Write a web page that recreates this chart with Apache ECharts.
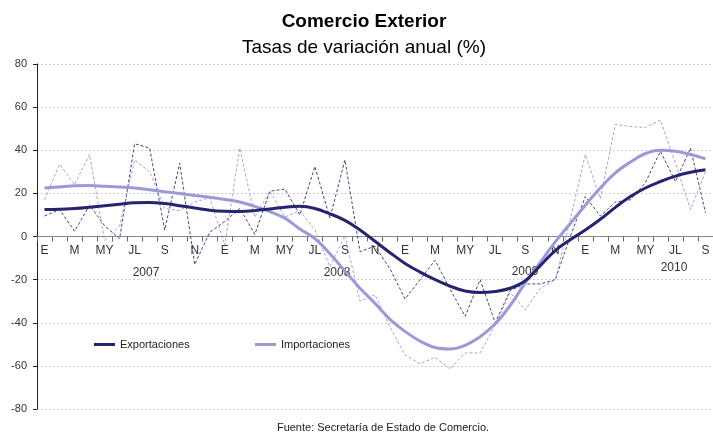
<!DOCTYPE html>
<html>
<head>
<meta charset="utf-8">
<script src="https://cdn.jsdelivr.net/npm/echarts@6/dist/echarts.min.js"></script>
<style>
  html, body { margin: 0; padding: 0; background: #fff; }
  #chart { width: 713px; height: 436px; }
</style>
</head>
<body>
<div id="chart"></div>
<script>
// meses ene 2007 - sep 2010
var meses = ['E','F','M','A','MY','JN','JL','AG','S','O','N','D',
             'E','F','M','A','MY','JN','JL','AG','S','O','N','D',
             'E','F','M','A','MY','JN','JL','AG','S','O','N','D',
             'E','F','M','A','MY','JN','JL','AG','S'];
var anios = ['2007', '2008', '2009', '2010'];

// tendencia (lineas gruesas)
var expTendencia = [12.5, 12.6, 13, 13.6, 14.3, 15, 15.6, 15.8, 15.3, 14.3, 13.2, 12.2,
                    11.7, 11.6, 12, 12.8, 13.6, 14, 13, 10.5, 7.5, 3, -2.2, -7.5,
                    -12.5, -16.5, -20, -23, -25.3, -26, -25.5, -24, -20.5, -13.5, -6.5, -1.5,
                    3, 8, 13.5, 18.5, 22.5, 25.5, 28, 29.8, 31];
var impTendencia = [22.5, 23, 23.5, 23.6, 23.3, 23, 22.5, 21.7, 20.8, 19.9, 19, 18.2,
                    17.2, 16, 14, 11.5, 8.5, 3.5, -1, -8, -16, -24, -31, -38.4,
                    -44, -48.5, -51.5, -52.2, -50.5, -46.5, -40.5, -32, -21.5, -12, -2.5, 6,
                    14.5, 22.5, 29.5, 34.5, 38.5, 40, 39.5, 38, 36];

// tasas mensuales (lineas discontinuas)
var expMensual = [9.5, 12.5, 2.5, 14.5, 5, -1, 43, 41, 3, 34, -13, 2,
                  7, 13, 1, 21, 22, 10, 32.5, 8.5, 35.5, -7, -4.5, -15,
                  -29, -20, -11, -24.5, -37, -20, -40, -25, -22, -22, -20, 0,
                  18.5, 9.5, 16, 17, 25, 39.5, 25.5, 41, 11];
var impMensual = [17, 33.5, 24, 38, -2, 5, 35.5, 30, 13, 12, 16, 18,
                  -4, 41, 9, 21, 9, 12, 3, -14, 0.5, -30, -27, -42,
                  -55, -59, -56, -61.5, -54, -54, -41, -26, -34, -24, -20, 8,
                  38, 17.5, 52, 51, 50.5, 54, 34, 12.5, 30];

var colorExp = '#24246f';
var colorImp = '#9c99d9';
var fuente = 'Liberation Sans, Arial, sans-serif';

var chart = echarts.init(document.getElementById('chart'));
var option = {
    backgroundColor: '#fff',
    animation: false,
    title: [{
        text: 'Comercio Exterior',
        left: 364, top: 12, padding: 0, textAlign: 'center',
        textStyle: { fontFamily: fuente, fontSize: 19, fontWeight: 'bold', color: '#000' }
    }, {
        text: 'Tasas de variación anual (%)',
        left: 364, top: 38, padding: 0, textAlign: 'center',
        textStyle: { fontFamily: fuente, fontSize: 19, fontWeight: 'normal', color: '#000' }
    }],
    legend: [{
        left: 94, top: 339, padding: 0,
        icon: 'rect', itemWidth: 21, itemHeight: 3,
        textStyle: { fontFamily: fuente, fontSize: 11, color: '#222' },
        data: ['Exportaciones']
    }, {
        left: 255, top: 339, padding: 0,
        icon: 'rect', itemWidth: 21, itemHeight: 3,
        textStyle: { fontFamily: fuente, fontSize: 11, color: '#222' },
        data: ['Importaciones']
    }],
    grid: { left: 37, right: 0, top: 64, bottom: 27, containLabel: false },
    xAxis: {
        type: 'category',
        data: meses,
        boundaryGap: true,
        offset: -172.5,
        axisLine: { onZero: false, lineStyle: { color: '#888', width: 1 } },
        axisTick: { show: true, interval: 0, length: 5, lineStyle: { color: '#666' } },
        axisLabel: { interval: 1, margin: 8, fontFamily: fuente, fontSize: 12, color: '#333' },
        splitLine: { show: false }
    },
    yAxis: {
        type: 'value',
        min: -80, max: 80, interval: 20,
        axisLine: { show: true, lineStyle: { color: '#222' } },
        axisTick: { show: true, length: 4, lineStyle: { color: '#222' } },
        axisLabel: { margin: 10, fontFamily: fuente, fontSize: 11, color: '#333' },
        splitLine: { show: true, lineStyle: { color: '#cfcfcf', type: [2, 2] } }
    },
    graphic: [
        { type: 'text', x: 146, y: 273, style: { text: anios[0], align: 'center', verticalAlign: 'middle', font: '12px ' + fuente, fill: '#333' } },
        { type: 'text', x: 337, y: 273, style: { text: anios[1], align: 'center', verticalAlign: 'middle', font: '12px ' + fuente, fill: '#333' } },
        { type: 'text', x: 525, y: 272, style: { text: anios[2], align: 'center', verticalAlign: 'middle', font: '12px ' + fuente, fill: '#333' } },
        { type: 'text', x: 674, y: 268, style: { text: anios[3], align: 'center', verticalAlign: 'middle', font: '12px ' + fuente, fill: '#333' } },
        { type: 'text', x: 383, y: 428, style: { text: 'Fuente: Secretaría de Estado de Comercio.', align: 'center', verticalAlign: 'middle', font: '11px ' + fuente, fill: '#222' } }
    ],
    series: [
        {
            name: 'Exp mensual', type: 'line', data: expMensual,
            symbol: 'none', silent: true,
            lineStyle: { color: colorExp, width: 1, type: [3, 2], opacity: 0.85 }
        },
        {
            name: 'Imp mensual', type: 'line', data: impMensual,
            symbol: 'none', silent: true,
            lineStyle: { color: colorImp, width: 1, type: [3, 2], opacity: 0.9 }
        },
        {
            name: 'Importaciones', type: 'line', data: impTendencia,
            symbol: 'none', smooth: 0.4, color: colorImp,
            lineStyle: { color: colorImp, width: 3 }
        },
        {
            name: 'Exportaciones', type: 'line', data: expTendencia,
            symbol: 'none', smooth: 0.4, color: colorExp,
            lineStyle: { color: colorExp, width: 3 }
        }
    ]
};
chart.setOption(option);
</script>
</body>
</html>
